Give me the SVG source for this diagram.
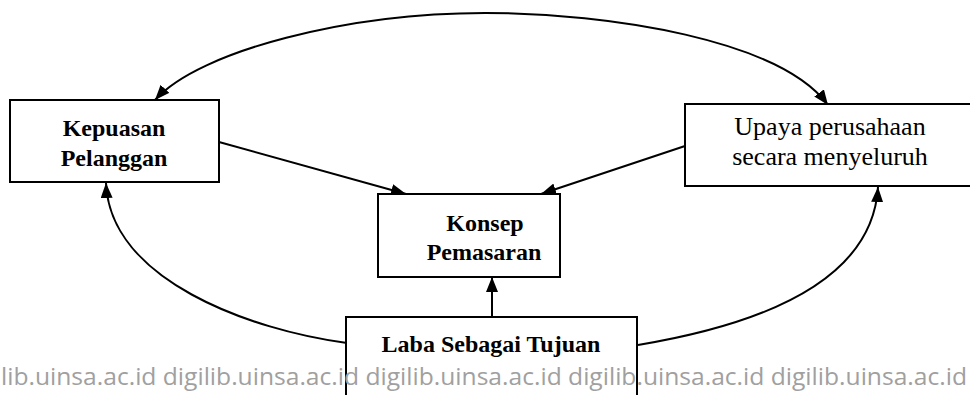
<svg xmlns="http://www.w3.org/2000/svg" width="970" height="395" viewBox="0 0 970 395">
  <defs>
    <marker id="arr" markerUnits="userSpaceOnUse" markerWidth="16" markerHeight="12" refX="15" refY="6" orient="auto-start-reverse">
      <path d="M0,0 L15,6 L0,12 Z" fill="#000"/>
    </marker>
    <style>
      .box { fill: #fff; stroke: #000; stroke-width: 2; }
      .t { font-family: "Liberation Serif", "Times New Roman", serif; font-size: 24px; font-weight: bold; fill: #000; text-anchor: middle; }
      .tr { font-family: "Liberation Serif", "Times New Roman", serif; font-size: 26px; font-weight: normal; fill: #000; text-anchor: middle; }
      .c { fill: none; stroke: #000; stroke-width: 2; }
      .wm { font-family: "Open Sans", "DejaVu Sans", sans-serif; font-size: 24.5px; fill: #a0a0a0; }
    </style>
  </defs>
  <rect width="970" height="395" fill="#fff"/>

  <g id="connectors">
    <path class="c" d="M155,100 C200,50 350,13 485,13 C610,13 780,40 828,105" marker-start="url(#arr)" marker-end="url(#arr)"/>
    <path class="c" d="M219,142 L406,194" marker-end="url(#arr)"/>
    <path class="c" d="M685,146 L541,194" marker-end="url(#arr)"/>
    <path class="c" d="M492,317 L492,277" marker-end="url(#arr)"/>
    <path class="c" d="M347,343 C250,330 110,280 106,183" marker-end="url(#arr)"/>
    <path class="c" d="M638,345 C740,328 872,290 878,187" marker-end="url(#arr)"/>
  </g>

  <g id="kepuasan">
    <rect class="box" x="10" y="100" width="209" height="82"/>
    <text class="t" x="114" y="136">Kepuasan</text>
    <text class="t" x="114" y="166">Pelanggan</text>
  </g>

  <g id="upaya">
    <rect class="box" x="685" y="104" width="295" height="82"/>
    <text class="tr" x="830" y="135">Upaya perusahaan</text>
    <text class="tr" x="830" y="165">secara menyeluruh</text>
  </g>

  <g id="konsep">
    <rect class="box" x="378" y="194" width="182" height="83"/>
    <text class="t" x="485" y="231">Konsep</text>
    <text class="t" x="484" y="260">Pemasaran</text>
  </g>

  <g id="laba">
    <rect class="box" x="346" y="317" width="291" height="90"/>
    <text class="t" x="491" y="352">Laba Sebagai Tujuan</text>
  </g>

  <text class="wm" x="1" y="385" textLength="966" lengthAdjust="spacingAndGlyphs">lib.uinsa.ac.id digilib.uinsa.ac.id digilib.uinsa.ac.id digilib.uinsa.ac.id digilib.uinsa.ac.id</text>
</svg>
